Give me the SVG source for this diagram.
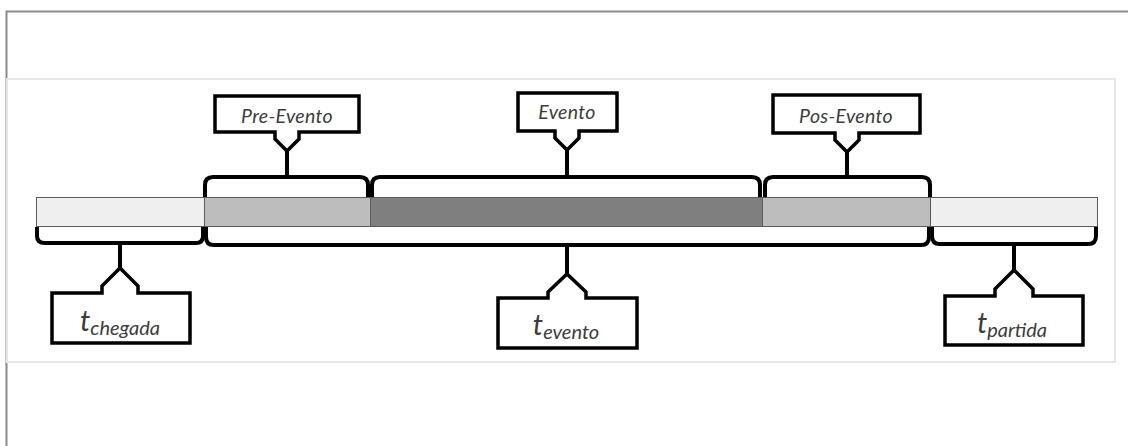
<svg xmlns="http://www.w3.org/2000/svg" width="1128" height="446" viewBox="0 0 1128 446">
  <defs>
    <style>
      .frame { fill: none; stroke: #8a8a8a; stroke-width: 2; }
      .panel { fill: #ffffff; stroke: #e6e6e6; stroke-width: 2; }
      .seg { stroke: #5a5a5a; stroke-width: 1; }
      .light { fill: #efefef; }
      .mid { fill: #bdbdbd; }
      .dark { fill: #7f7f7f; }
      .brace { fill: none; stroke: #000; stroke-width: 4; stroke-linejoin: round; }
      .stem { stroke: #000; stroke-width: 4; }
      .callout { fill: #fff; stroke: #000; stroke-width: 3.5; stroke-linejoin: miter; }
      .lbl { font-family: Lato, "Open Sans", sans-serif; font-style: italic; fill: #3c3c3c; text-anchor: middle; }
      .top { font-size: 19.5px; letter-spacing: 0.3px; }
      .t { font-size: 29px; }
      .sub { font-size: 20px; }
    </style>
  </defs>

  <!-- page frame -->
  <rect x="0" y="0" width="1128" height="446" fill="#fff"/>
  <path class="frame" d="M6.5,446 V11.5 H1128"/>
  <rect class="panel" x="7" y="79" width="1108" height="283"/>

  <!-- timeline bar -->
  <g id="bar">
    <rect class="seg light" x="36.5" y="197.5" width="168" height="29"/>
    <rect class="seg mid" x="204.5" y="197.5" width="166" height="29"/>
    <rect class="seg dark" x="370.5" y="197.5" width="392" height="29"/>
    <rect class="seg mid" x="762.5" y="197.5" width="168" height="29"/>
    <rect class="seg light" x="930.5" y="197.5" width="167" height="29"/>
  </g>

  <!-- braces and stems -->
  <g id="connectors">
    <path class="brace" d="M205,197 V185 Q205,177 213,177 H360 Q368,177 368,185 V197"/>
    <path class="brace" d="M372,197 V185 Q372,177 380,177 H752 Q760,177 760,185 V197"/>
    <path class="brace" d="M765,197 V185 Q765,177 773,177 H922 Q930,177 930,185 V197"/>
    <path class="brace" d="M37,227 V236 Q37,243 45,243 H196 Q203,243 203,236 V227"/>
    <path class="brace" d="M206,227 V237 Q206,245 214,245 H921 Q929,245 929,237 V227"/>
    <path class="brace" d="M932,227 V236 Q932,244 940,244 H1088 Q1096,244 1096,236 V227"/>
    <line class="stem" x1="287" y1="150" x2="287" y2="177"/>
    <line class="stem" x1="567" y1="149" x2="567" y2="177"/>
    <line class="stem" x1="847" y1="151" x2="847" y2="177"/>
    <line class="stem" x1="120" y1="243" x2="120" y2="269"/>
    <line class="stem" x1="567" y1="245" x2="567" y2="275"/>
    <line class="stem" x1="1014" y1="244" x2="1014" y2="271"/>
  </g>

  <!-- upper labels -->
  <g id="pre-evento">
    <path class="callout" d="M215,96 H359 V132 H299 V139 L287,151 L275,139 V132 H215 Z"/>
    <text class="lbl top" x="287" y="123">Pre-Evento</text>
  </g>
  <g id="evento">
    <path class="callout" d="M518,93 H617 V131 H579 V138 L567,150 L555,138 V131 H518 Z"/>
    <text class="lbl top" x="567" y="119">Evento</text>
  </g>
  <g id="pos-evento">
    <path class="callout" d="M773,95 H920 V133 H859 V140 L847,152 L835,140 V133 H773 Z"/>
    <text class="lbl top" x="846" y="123">Pos-Evento</text>
  </g>

  <!-- lower labels -->
  <g id="t-chegada">
    <path class="callout" d="M52,293 H102 V286 L120,268 L138,286 V293 H190 V343 H52 Z"/>
    <text class="lbl t" x="120" y="331">t<tspan class="sub" dy="4">chegada</tspan></text>
  </g>
  <g id="t-evento">
    <path class="callout" d="M498,298 H548 V292 L567,274 L586,292 V298 H637 V348 H498 Z"/>
    <text class="lbl t" x="566" y="335">t<tspan class="sub" dy="4">evento</tspan></text>
  </g>
  <g id="t-partida">
    <path class="callout" d="M945,296 H995 V289 L1014,270 L1033,289 V296 H1083 V345 H945 Z"/>
    <text class="lbl t" x="1012" y="333">t<tspan class="sub" dy="4">partida</tspan></text>
  </g>
</svg>
